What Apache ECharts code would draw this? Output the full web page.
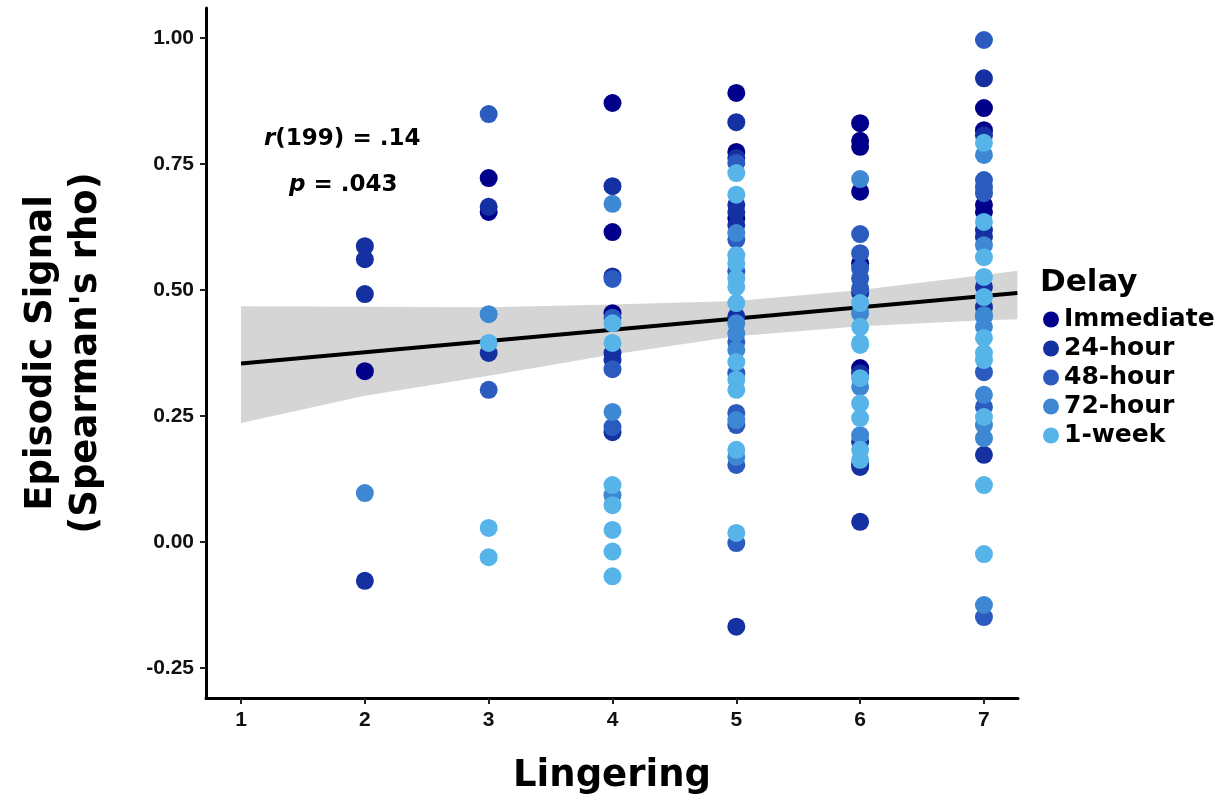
<!DOCTYPE html>
<html>
<head>
<meta charset="utf-8">
<script src="https://cdn.jsdelivr.net/npm/echarts@6/dist/echarts.min.js"></script>
<style>html,body{margin:0;padding:0;background:#fff}#c{width:1229px;height:801px}</style>
</head>
<body>
<div id="c"></div>
<script>
// ---- data ----
const lingeringTicks = [1, 2, 3, 4, 5, 6, 7];
const signalTicks = [-0.25, 0, 0.25, 0.5, 0.75, 1.0];
const delays = ['Immediate', '24-hour', '48-hour', '72-hour', '1-week'];
const delayColors = ['#00008b', '#1530a0', '#2b5bbf', '#3e88d3', '#56b4e9'];

const immediate = [
  [2, 0.339],
  [3, 0.722], [3, 0.655],
  [4, 0.871], [4, 0.615], [4, 0.454],
  [5, 0.891], [5, 0.774], [5, 0.643],
  [6, 0.831], [6, 0.796], [6, 0.784], [6, 0.695], [6, 0.553], [6, 0.345], [6, 0.155],
  [7, 0.861], [7, 0.817], [7, 0.669], [7, 0.655]
];
const hour24 = [
  [2, 0.587], [2, 0.561], [2, 0.492], [2, -0.077],
  [3, 0.665], [3, 0.375],
  [4, 0.706], [4, 0.527], [4, 0.375], [4, 0.361], [4, 0.218],
  [5, 0.833], [5, 0.762], [5, 0.669], [5, 0.655], [5, 0.629], [5, 0.447], [5, -0.168],
  [6, 0.494], [6, 0.335], [6, 0.199], [6, 0.149], [6, 0.040],
  [7, 0.920], [7, 0.807], [7, 0.619], [7, 0.605], [7, 0.506], [7, 0.466], [7, 0.173]
];
const hour48 = [
  [3, 0.849], [3, 0.302],
  [4, 0.522], [4, 0.445], [4, 0.343], [4, 0.228],
  [5, 0.752], [5, 0.600], [5, 0.537], [5, 0.397], [5, 0.335], [5, 0.256], [5, 0.232], [5, 0.153], [5, -0.002],
  [6, 0.611], [6, 0.573], [6, 0.543], [6, 0.523], [6, 0.503],
  [7, 0.996], [7, 0.718], [7, 0.704], [7, 0.692], [7, 0.337], [7, 0.268], [7, -0.149]
];
const hour72 = [
  [2, 0.097],
  [3, 0.452],
  [4, 0.671], [4, 0.258], [4, 0.093],
  [5, 0.613], [5, 0.434], [5, 0.414], [5, 0.381], [5, 0.242], [5, 0.169],
  [6, 0.720], [6, 0.454], [6, 0.308], [6, 0.212],
  [7, 0.768], [7, 0.589], [7, 0.450], [7, 0.447], [7, 0.427], [7, 0.292], [7, 0.232], [7, 0.206], [7, -0.125]
];
const week1 = [
  [3, 0.395], [3, 0.028], [3, -0.030],
  [4, 0.434], [4, 0.395], [4, 0.113], [4, 0.073], [4, 0.024], [4, -0.019], [4, -0.068],
  [5, 0.732], [5, 0.689], [5, 0.569], [5, 0.553], [5, 0.523], [5, 0.506], [5, 0.474], [5, 0.357], [5, 0.322], [5, 0.302], [5, 0.183], [5, 0.018],
  [6, 0.474], [6, 0.427], [6, 0.395], [6, 0.391], [6, 0.325], [6, 0.275], [6, 0.246], [6, 0.183], [6, 0.163],
  [7, 0.792], [7, 0.635], [7, 0.565], [7, 0.526], [7, 0.486], [7, 0.405], [7, 0.375], [7, 0.361], [7, 0.248], [7, 0.113], [7, -0.024]
];
const delaySeries = [immediate, hour24, hour48, hour72, week1];

// fitted line and confidence band
const fitX = [1, 7.27];
const fitY = [0.354, 0.494];
const bandX = [1, 2, 3, 4, 5, 6, 7, 7.27];
const bandHigh = [0.468, 0.467, 0.466, 0.471, 0.478, 0.500, 0.530, 0.538];
const bandLow = [0.236, 0.290, 0.330, 0.372, 0.408, 0.428, 0.440, 0.442];

const FONT = 'DejaVu Sans';
const TICKFONT = 'Liberation Sans';
const chart = echarts.init(document.getElementById('c'), null, {renderer: 'canvas'});

const series = [
  {
    type: 'custom',
    silent: true,
    z: 1,
    data: [[bandX[0], bandLow[0]]],
    renderItem: function (params, api) {
      const pts = [];
      for (let i = 0; i < bandX.length; i++) pts.push(api.coord([bandX[i], bandHigh[i]]));
      for (let i = bandX.length - 1; i >= 0; i--) pts.push(api.coord([bandX[i], bandLow[i]]));
      return {type: 'polygon', shape: {points: pts}, style: {fill: '#d5d5d5', stroke: null}};
    }
  },
  {
    type: 'line',
    silent: true,
    z: 2,
    symbol: 'none',
    data: fitX.map((x, i) => [x, fitY[i]]),
    lineStyle: {color: '#000', width: 4}
  }
];
delays.forEach((name, k) => {
  series.push({
    name: name,
    type: 'scatter',
    z: 3 + k,
    symbol: 'circle',
    symbolSize: 18,
    data: delaySeries[k],
    itemStyle: {color: delayColors[k], opacity: 1}
  });
});

const richAnno = {
  i: {fontStyle: 'italic', fontWeight: 'bold', fontSize: 23, fontFamily: FONT, fill: '#000'},
  n: {fontWeight: 'bold', fontSize: 23, fontFamily: FONT, fill: '#000'}
};

chart.setOption({
  animation: false,
  backgroundColor: '#fff',
  textStyle: {fontFamily: FONT},
  grid: {left: 206, right: 211, top: 8, bottom: 103, containLabel: false},
  title: {
    text: 'Delay', left: 1035, top: 262,
    textStyle: {fontFamily: FONT, fontSize: 31, fontWeight: 'bold', color: '#000'}
  },
  legend: {
    orient: 'vertical', left: 1038, top: 302,
    data: delays, icon: 'circle', itemWidth: 16, itemHeight: 16, itemGap: 4, itemTextGap: 6,
    textStyle: {fontFamily: FONT, fontSize: 25, fontWeight: 'bold', color: '#000', lineHeight: 24.75}
  },
  graphic: [
    {type: 'text', left: 264, top: 128, style: {rich: richAnno, text: '{i|r}{n|(199) = .14}'}},
    {type: 'text', left: 289, top: 174, style: {rich: richAnno, text: '{i|p}{n| = .043}'}}
  ],
  xAxis: {
    type: 'value', min: 0.717, max: 7.275,
    name: 'Lingering', nameLocation: 'middle', nameGap: 60,
    nameTextStyle: {fontFamily: FONT, fontSize: 37, fontWeight: 'bold', color: '#000'},
    axisLine: {show: true, onZero: false, lineStyle: {color: '#000', width: 3}},
    axisTick: {show: true, customValues: lingeringTicks, length: 6, lineStyle: {color: '#222', width: 2}},
    axisLabel: {customValues: lingeringTicks, margin: 12, fontFamily: TICKFONT, fontSize: 21, fontWeight: 'bold', color: '#111'},
    splitLine: {show: false}
  },
  yAxis: {
    type: 'value', min: -0.3095, max: 1.0595,
    name: "Episodic Signal\n(Spearman's rho)", nameLocation: 'middle', nameGap: 97, nameRotate: 90,
    nameTextStyle: {fontFamily: FONT, fontSize: 37, fontWeight: 'bold', color: '#000', lineHeight: 45, align: 'center'},
    axisLine: {show: true, onZero: false, lineStyle: {color: '#000', width: 3}},
    axisTick: {show: true, customValues: signalTicks, length: 6, lineStyle: {color: '#222', width: 2}},
    axisLabel: {customValues: signalTicks, margin: 12, fontFamily: TICKFONT, fontSize: 21, fontWeight: 'bold', color: '#111',
      formatter: v => v.toFixed(2)},
    splitLine: {show: false}
  },
  series: series
});
</script>
</body>
</html>
